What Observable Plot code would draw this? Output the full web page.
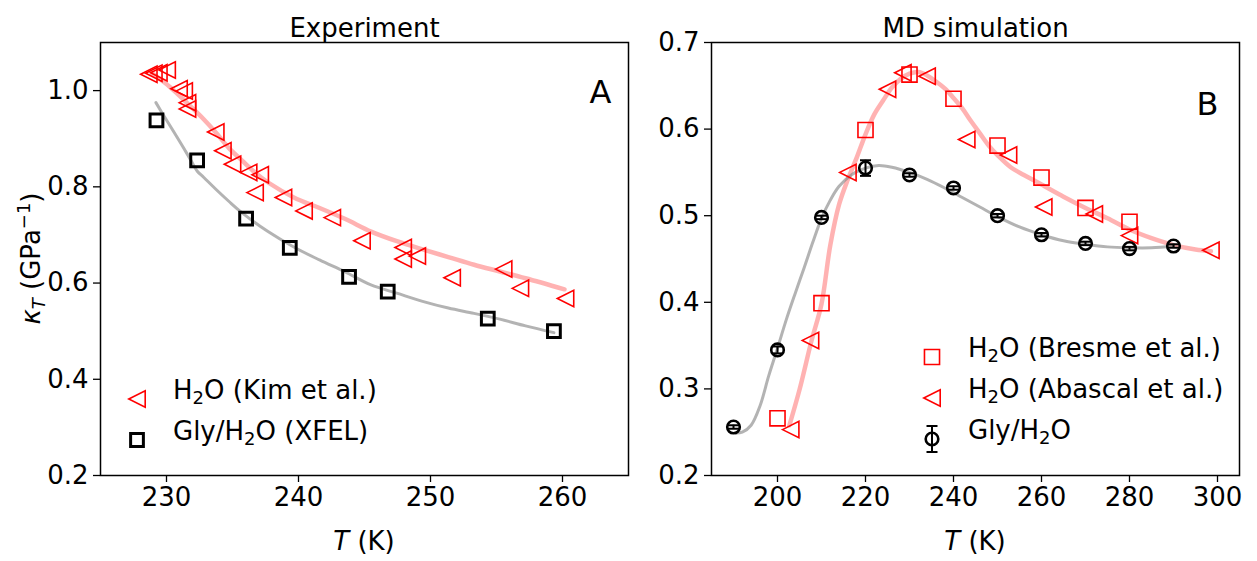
<!DOCTYPE html>
<html><head><meta charset="utf-8">
<script src="https://cdn.jsdelivr.net/npm/d3@7"></script>
<script src="https://cdn.jsdelivr.net/npm/@observablehq/plot@0.6"></script>
<style>
body{margin:0;background:#fff;font-family:"DejaVu Sans",sans-serif;}
#wrap{position:relative;width:1257px;height:561px;overflow:hidden;}
#left{position:absolute;left:0;top:0;}
#right{position:absolute;left:640px;top:0;}
</style></head><body><div id="wrap"><div id="left"></div><div id="right"></div></div>
<script>
// ---------- Panel A: Experiment ----------
const kimT = [228.66, 229.04, 229.42, 230.05, 230.95, 231.34, 231.59, 231.59, 233.73, 234.27, 235.0, 236.22, 237.1, 236.71, 238.86, 240.42, 242.56, 244.81, 247.93, 249.0, 247.93, 251.64, 255.54, 256.81, 260.23];
const kimK = [1.034, 1.036, 1.037, 1.043, 1.004, 0.999, 0.975, 0.962, 0.914, 0.875, 0.847, 0.830, 0.825, 0.788, 0.778, 0.750, 0.736, 0.688, 0.674, 0.656, 0.650, 0.611, 0.629, 0.589, 0.568];
const kimFitT = [228.9, 229.9, 230.85, 231.8, 232.8, 233.8, 234.75, 235.75, 236.7, 237.7, 239.65, 241.6, 243.55, 245.5, 247.45, 249.4, 251.35, 253.3, 255.25, 257.2, 260.15];
const kimFitK = [1.036, 1.016, 0.993, 0.968, 0.941, 0.911, 0.880, 0.854, 0.830, 0.809, 0.778, 0.756, 0.733, 0.707, 0.687, 0.670, 0.654, 0.638, 0.624, 0.610, 0.587];
const xfelT = [229.24, 232.32, 236.03, 239.34, 243.83, 246.76, 254.34, 259.35];
const xfelK = [0.938, 0.855, 0.734, 0.673, 0.613, 0.582, 0.526, 0.500];
const xfelFitT = [229.2, 229.88, 230.85, 231.83, 232.32, 232.81, 233.78, 234.76, 235.73, 237.69, 239.64, 241.59, 243.54, 245.49, 247.44, 249.4, 251.35, 253.3, 255.25, 257.2, 259.35];
const xfelFitK = [0.975, 0.944, 0.901, 0.856, 0.833, 0.820, 0.794, 0.769, 0.746, 0.707, 0.675, 0.648, 0.623, 0.596, 0.579, 0.562, 0.548, 0.537, 0.525, 0.511, 0.497];
const xTicksA = [230, 240, 250, 260];
const yTicksA = [0.2, 0.4, 0.6, 0.8, 1.0];

// ---------- Panel B: MD simulation ----------
const bresmeT = [200, 210, 220, 230, 240, 250, 260, 270, 280];
const bresmeK = [0.266, 0.399, 0.599, 0.663, 0.635, 0.581, 0.544, 0.509, 0.493];
const abascalT = [203.0, 207.5, 216.0, 225.0, 228.5, 234.0, 243.0, 252.5, 260.5, 272.0, 280.0, 298.5];
const abascalK = [0.253, 0.356, 0.550, 0.646, 0.665, 0.661, 0.588, 0.570, 0.510, 0.502, 0.477, 0.460];
const waterFitT = [202.7, 205, 207.7, 210, 212, 214, 216, 218, 220, 222, 224, 226, 228, 230, 232, 234, 236, 238, 240, 242, 244, 246, 248, 250, 253, 256, 260, 265, 270, 275, 280, 285, 290, 295, 298.5];
const waterFitK = [0.258, 0.299, 0.355, 0.398, 0.466, 0.513, 0.542, 0.567, 0.594, 0.617, 0.633, 0.648, 0.658, 0.664, 0.666, 0.662, 0.655, 0.647, 0.636, 0.624, 0.609, 0.595, 0.581, 0.570, 0.556, 0.547, 0.536, 0.522, 0.509, 0.497, 0.484, 0.474, 0.466, 0.461, 0.459];
const glyT = [190, 200, 210, 220, 230, 240, 250, 260, 270, 280, 290];
const glyK = [0.256, 0.345, 0.498, 0.555, 0.547, 0.532, 0.500, 0.478, 0.468, 0.462, 0.465];
const glyErr = [0.002, 0.004, 0.002, 0.009, 0.002, 0.002, 0.002, 0.002, 0.002, 0.002, 0.002];
const glyFitT = [190.5, 192, 194, 196, 198, 200, 202, 204, 206, 208, 210, 212, 214, 217, 220, 223, 226, 230, 234, 238, 242, 246, 250, 255, 260, 265, 270, 275, 280, 285, 290];
const glyFitK = [0.249, 0.250, 0.258, 0.280, 0.315, 0.347, 0.380, 0.410, 0.439, 0.469, 0.497, 0.518, 0.534, 0.548, 0.555, 0.558, 0.556, 0.550, 0.542, 0.532, 0.521, 0.510, 0.499, 0.487, 0.478, 0.471, 0.467, 0.464, 0.463, 0.463, 0.465];
const xTicksB = [200, 220, 240, 260, 280, 300];
const yTicksB = [0.2, 0.3, 0.4, 0.5, 0.6, 0.7];

const legendA = [
  {sym: "tri", color: "red", label: "H₂O (Kim et al.)"},
  {sym: "sqk", color: "black", label: "Gly/H₂O (XFEL)"}
];
const legendB = [
  {sym: "sq", color: "red", label: "H₂O (Bresme et al.)"},
  {sym: "tri", color: "red", label: "H₂O (Abascal et al.)"},
  {sym: "err", color: "black", label: "Gly/H₂O"}
];

// ---------- helpers ----------
const zip = (xs, ys, extra) => xs.map((x, i) => ({T: x, k: ys[i], e: extra ? extra[i] : 0}));
const triLeft = {draw(ctx, size) {const h = Math.sqrt(size / Math.PI); ctx.moveTo(-h, 0); ctx.lineTo(h, -h); ctx.lineTo(h, h); ctx.closePath();}};
const capSym = {draw(ctx, size) {const h = Math.sqrt(size / Math.PI); ctx.moveTo(-h, 0); ctx.lineTo(h, 0);}};
const FONT = "DejaVu Sans";
const FS = 26;
const baseStyle = {fontFamily: FONT, fontSize: FS + "px", color: "black", background: "white", overflow: "visible"};
const MT = 42, MB = 86;

function axes(xt, yt) {
  return [
    Plot.axisX({ticks: xt, tickSize: 7, tickPadding: 5, tickFormat: d3.format("d"), label: null, strokeWidth: 1.3, fontSize: FS}),
    Plot.axisY({ticks: yt, tickSize: 7, tickPadding: 5, tickFormat: d3.format(".1f"), label: null, strokeWidth: 1.3, fontSize: FS}),
    Plot.frame({stroke: "black", strokeWidth: 1.5})
  ];
}

const plotA = Plot.plot({
  width: 640, height: 561,
  marginLeft: 100, marginRight: 12, marginTop: MT, marginBottom: MB,
  style: baseStyle,
  x: {domain: [225, 265]},
  y: {domain: [0.2, 1.1]},
  marks: [
    Plot.line(zip(kimFitT, kimFitK), {x: "T", y: "k", stroke: "red", strokeOpacity: 0.3, strokeWidth: 4.5, curve: "catmull-rom"}),
    Plot.line(zip(xfelFitT, xfelFitK), {x: "T", y: "k", stroke: "gray", strokeOpacity: 0.6, strokeWidth: 3, curve: "catmull-rom"}),
    Plot.dot(zip(kimT, kimK), {x: "T", y: "k", symbol: triLeft, r: 8.2, stroke: "red", strokeWidth: 1.6, fill: "none"}),
    Plot.dot(zip(xfelT, xfelK), {x: "T", y: "k", symbol: "square", r: 7.2, stroke: "black", strokeWidth: 3, fill: "none"}),
    ...axes(xTicksA, yTicksA),
    Plot.text(["Experiment"], {frameAnchor: "top", dy: -24, fontSize: FS}),
    Plot.text(["A"], {frameAnchor: "top-right", dx: -28, dy: 38, fontSize: 32, textAnchor: "middle"})
  ]
});

const plotB = Plot.plot({
  width: 617, height: 561,
  marginLeft: 71, marginRight: 18, marginTop: MT, marginBottom: MB,
  style: baseStyle,
  x: {domain: [185, 305]},
  y: {domain: [0.2, 0.7]},
  marks: [
    Plot.line(zip(waterFitT, waterFitK), {x: "T", y: "k", stroke: "red", strokeOpacity: 0.3, strokeWidth: 4.5, curve: "catmull-rom"}),
    Plot.line(zip(glyFitT, glyFitK), {x: "T", y: "k", stroke: "gray", strokeOpacity: 0.6, strokeWidth: 3, curve: "catmull-rom"}),
    Plot.dot(zip(bresmeT, bresmeK), {x: "T", y: "k", symbol: "square", r: 8.5, stroke: "red", strokeWidth: 1.6, fill: "none"}),
    Plot.dot(zip(abascalT, abascalK), {x: "T", y: "k", symbol: triLeft, r: 8.2, stroke: "red", strokeWidth: 1.6, fill: "none"}),
    Plot.ruleX(zip(glyT, glyK, glyErr), {x: "T", y1: d => d.k - d.e, y2: d => d.k + d.e, stroke: "black", strokeWidth: 2}),
    Plot.dot(zip(glyT, glyK, glyErr), {x: "T", y: d => d.k + d.e, symbol: capSym, r: 5.5, stroke: "black", strokeWidth: 2}),
    Plot.dot(zip(glyT, glyK, glyErr), {x: "T", y: d => d.k - d.e, symbol: capSym, r: 5.5, stroke: "black", strokeWidth: 2}),
    Plot.dot(zip(glyT, glyK), {x: "T", y: "k", symbol: "circle", r: 6.3, stroke: "black", strokeWidth: 2.6, fill: "none"}),
    ...axes(xTicksB, yTicksB),
    Plot.text(["MD simulation"], {frameAnchor: "top", dy: -24, fontSize: FS}),
    Plot.text(["B"], {frameAnchor: "top-right", dx: -32, dy: 50, fontSize: 32, textAnchor: "middle"})
  ]
});

document.getElementById("left").appendChild(plotA);
document.getElementById("right").appendChild(plotB);

// ---------- axis labels & legends (non-data annotations) ----------
function xLabel(plot) {
  const sx = plot.scale("x").range;
  const svg = d3.select(plot);
  const t = svg.append("text").attr("x", (sx[0] + sx[1]) / 2).attr("y", 550)
    .attr("text-anchor", "middle").attr("font-size", FS).attr("font-family", FONT).attr("fill", "black");
  t.append("tspan").attr("font-style", "italic").text("T");
  t.append("tspan").text(" (K)");
}
xLabel(plotA); xLabel(plotB);

(function yLabel() {
  const sy = plotA.scale("y").range;
  const svg = d3.select(plotA);
  const t = svg.append("text").attr("transform", `translate(40,${(sy[0] + sy[1]) / 2}) rotate(-90)`)
    .attr("text-anchor", "middle").attr("font-size", FS).attr("font-family", FONT).attr("fill", "black");
  t.append("tspan").attr("font-style", "italic").text("κ");
  t.append("tspan").attr("font-style", "italic").attr("font-size", 18).attr("dy", 5).text("T");
  t.append("tspan").attr("dy", -5).text(" (GPa");
  t.append("tspan").attr("font-size", 18).attr("dy", -10).text("−1");
  t.append("tspan").attr("dy", 10).text(")");
})();

function drawSym(g, sym, color) {
  if (sym === "tri") {
    g.append("path").attr("d", d3.symbol(triLeft, Math.PI * 8.2 * 8.2)()).attr("fill", "none").attr("stroke", color).attr("stroke-width", 1.6);
  } else if (sym === "sq" || sym === "sqk") {
    const r = sym === "sq" ? 8.5 : 7.2;
    g.append("path").attr("d", d3.symbol(d3.symbolSquare, Math.PI * r * r)()).attr("fill", "none").attr("stroke", color).attr("stroke-width", sym === "sq" ? 1.6 : 3);
  } else if (sym === "err") {
    g.append("line").attr("y1", -13).attr("y2", 13).attr("stroke", color).attr("stroke-width", 2);
    g.append("line").attr("x1", -5.5).attr("x2", 5.5).attr("y1", -13).attr("y2", -13).attr("stroke", color).attr("stroke-width", 2);
    g.append("line").attr("x1", -5.5).attr("x2", 5.5).attr("y1", 13).attr("y2", 13).attr("stroke", color).attr("stroke-width", 2);
    g.append("circle").attr("r", 6.3).attr("fill", "none").attr("stroke", color).attr("stroke-width", 2.6);
  }
}
function legend(plot, items, x0, ys) {
  const svg = d3.select(plot);
  items.forEach((it, i) => {
    const g = svg.append("g").attr("transform", `translate(${x0},${ys[i]})`);
    drawSym(g, it.sym, it.color);
    const parts = it.label.split("₂");
    const t = g.append("text").attr("x", 36).attr("dy", "0.35em").attr("text-anchor", "start")
      .attr("font-size", FS).attr("font-family", FONT).attr("fill", "black");
    parts.forEach((p, j) => {
      if (j > 0) t.append("tspan").attr("font-size", 18).attr("dy", 5).text("2");
      t.append("tspan").attr("dy", j > 0 ? -5 : 0).text(p);
    });
  });
}
legend(plotA, legendA, 137, [399, 440]);
legend(plotB, legendB, 292, [357, 398, 439]);
</script>
</body></html>
